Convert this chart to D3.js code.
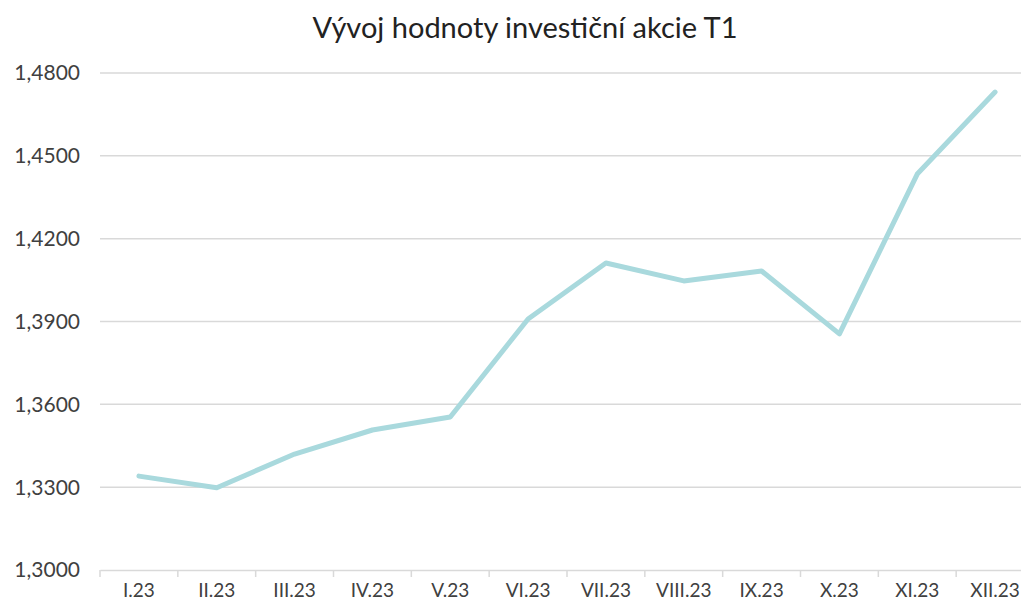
<!DOCTYPE html>
<html>
<head>
<meta charset="utf-8">
<script src="https://cdn.jsdelivr.net/npm/d3@7"></script>
<style>
  body { margin: 0; background: #fff; }
  svg { display: block; font-family: Lato, "Open Sans", sans-serif; }
</style>
</head>
<body>
<svg id="chart" width="1021" height="603"></svg>
<script>
// categories + values
var months = ["I.23", "II.23", "III.23", "IV.23", "V.23", "VI.23", "VII.23", "VIII.23", "IX.23", "X.23", "XI.23", "XII.23"];
var values = [1.3340, 1.3298, 1.3420, 1.3507, 1.3554, 1.3909, 1.4112, 1.4047, 1.4083, 1.3855, 1.4434, 1.4731];
var yTicks = [1.30, 1.33, 1.36, 1.39, 1.42, 1.45, 1.48];

var svg = d3.select("#chart");
var margin = {top: 73, right: -13, bottom: 33, left: 100},
    width = 1021 - margin.left - margin.right,
    height = 603 - margin.top - margin.bottom;

var g = svg.append("g").attr("transform", "translate(" + margin.left + "," + margin.top + ")");

var x = d3.scaleBand().domain(months).range([0, width]).padding(0);
var y = d3.scaleLinear().domain([1.30, 1.48]).range([height, 0]);

// title
svg.append("text")
    .attr("x", 525).attr("y", 38)
    .attr("text-anchor", "middle")
    .attr("font-size", "29px")
    .attr("fill", "#222")
    .text("Vývoj hodnoty investiční akcie T1");

// gridlines
g.selectAll(".grid").data(yTicks.slice(1)).enter()
    .append("line")
    .attr("x1", 0).attr("x2", width)
    .attr("y1", function(d){ return y(d); })
    .attr("y2", function(d){ return y(d); })
    .style("stroke", "#d9d9d9").style("stroke-width", 1.5);

// y axis labels
var fmt = function(d){ return d.toFixed(4).replace(".", ","); };
g.selectAll(".ylab").data(yTicks).enter()
    .append("text")
    .attr("x", -20)
    .attr("y", function(d){ return y(d); })
    .attr("dy", "0.35em")
    .attr("text-anchor", "end")
    .attr("font-size", "21px")
    .attr("fill", "#404040")
    .text(fmt);

// x axis
var xAxis = g.append("g").attr("transform", "translate(0," + height + ")")
    .call(d3.axisBottom(x).tickSize(0).tickPadding(14));
xAxis.select(".domain").style("stroke", "#d9d9d9").style("stroke-width", 1.5);
xAxis.selectAll("text").attr("font-size", "19px").attr("fill", "#404040").style("font-family", "Lato, 'Open Sans', sans-serif");

// tick marks between categories
var edges = months.map(function(m){ return x(m); }).concat([width]);
xAxis.selectAll(".sep").data(edges).enter()
    .append("line")
    .attr("x1", function(d){ return d; }).attr("x2", function(d){ return d; })
    .attr("y1", 0).attr("y2", 7)
    .style("stroke", "#d9d9d9").style("stroke-width", 1.5);

// line
var line = d3.line()
    .x(function(d, i){ return x(months[i]) + x.bandwidth() / 2; })
    .y(function(d){ return y(d); });

g.append("path")
    .datum(values)
    .attr("d", line)
    .style("fill", "none")
    .style("stroke", "#a9d9dd")
    .style("stroke-width", 5)
    .style("stroke-linecap", "round")
    .style("stroke-linejoin", "round");
</script>
</body>
</html>
